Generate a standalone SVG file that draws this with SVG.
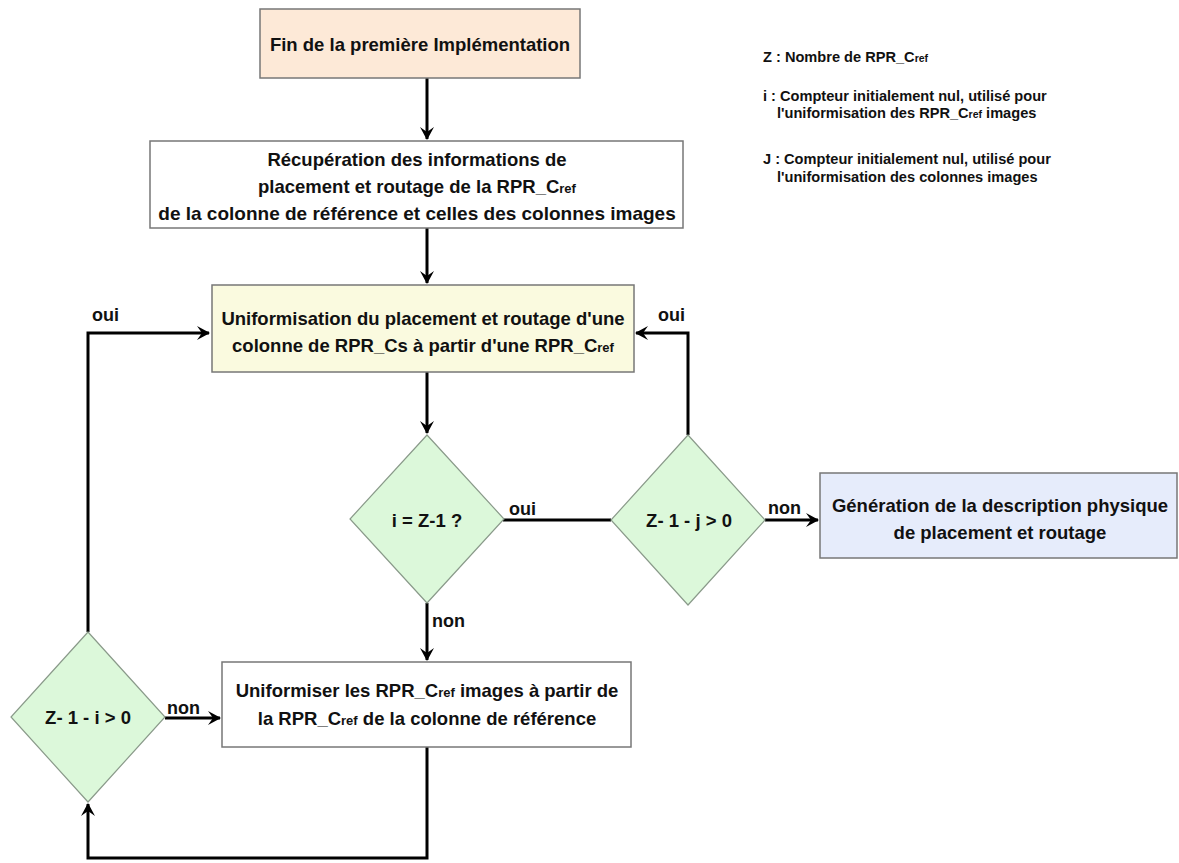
<svg xmlns="http://www.w3.org/2000/svg" width="1179" height="863" viewBox="0 0 1179 863">
<style>
.t{font-family:"Liberation Sans",Arial,sans-serif;font-weight:bold;fill:#111;}
.m{font-size:18.5px;text-anchor:middle;}
.l{font-size:18px;}
.g{font-size:14.6px;}
.s{font-size:13px;}
.gs{font-size:10.5px;}
.box{stroke:#777;stroke-width:1.5;}
.dia{fill:#dcf8da;stroke:#8a9a8a;stroke-width:1.2;}
.c{fill:none;stroke:#000;stroke-width:3;}
</style>
<defs>
<marker id="ah" markerUnits="userSpaceOnUse" markerWidth="14" markerHeight="16" refX="12" refY="8" orient="auto">
<path d="M0,1 L13,8 L0,15 L5,8 z" fill="#000"/>
</marker>
</defs>
<rect width="1179" height="863" fill="#fff"/>

<g id="connectors">
<path class="c" d="M427,78 L427,139" marker-end="url(#ah)"/>
<path class="c" d="M427,228 L427,283" marker-end="url(#ah)"/>
<path class="c" d="M427,372 L427,433" marker-end="url(#ah)"/>
<path class="c" d="M503,520 L611,520"/>
<path class="c" d="M765,520 L818,520" marker-end="url(#ah)"/>
<path class="c" d="M688,435 L688,333 L636,333" marker-end="url(#ah)"/>
<path class="c" d="M427,603 L427,660" marker-end="url(#ah)"/>
<path class="c" d="M165,718 L220,718" marker-end="url(#ah)"/>
<path class="c" d="M427,747 L427,858 L88,858 L88,804" marker-end="url(#ah)"/>
<path class="c" d="M88,632 L88,333 L209,333" marker-end="url(#ah)"/>
<text class="t l" x="509" y="515">oui</text>
<text class="t l" x="768" y="514">non</text>
<text class="t l" x="658" y="321">oui</text>
<text class="t l" x="92" y="321">oui</text>
<text class="t l" x="432" y="627">non</text>
<text class="t l" x="167" y="714">non</text>
</g>

<g id="n1">
<rect class="box" x="260" y="9" width="320" height="69" fill="#fde9d7"/>
<text class="t m" x="420" y="51">Fin de la première Implémentation</text>
</g>

<g id="n2">
<rect class="box" x="150" y="141" width="533" height="87" fill="#fff"/>
<text class="t m" x="417" y="166">Récupération des informations de</text>
<text class="t m" x="417" y="193">placement et routage de la RPR_C<tspan class="s">ref</tspan></text>
<text class="t m" x="417" y="220" style="font-size:19px">de la colonne de référence et celles des colonnes images</text>
</g>

<g id="n3">
<rect class="box" x="212" y="285" width="422" height="87" fill="#fafadf"/>
<text class="t m" x="423" y="325">Uniformisation du placement et routage d'une</text>
<text class="t m" x="423" y="352">colonne de RPR_Cs à partir d'une RPR_C<tspan class="s">ref</tspan></text>
</g>

<g id="d1">
<polygon class="dia" points="427,435 504,519 427,603 350,519"/>
<text class="t m" x="427" y="527">i = Z-1 ?</text>
</g>

<g id="d2">
<polygon class="dia" points="688,435 765,520 688,605 611,520"/>
<text class="t m" x="689" y="527">Z- 1 - j &gt; 0</text>
</g>

<g id="n5">
<rect class="box" x="820" y="473" width="357" height="85" fill="#e6ecfb"/>
<text class="t m" x="1000" y="512">Génération de la description physique</text>
<text class="t m" x="1000" y="539">de placement et routage</text>
</g>

<g id="n4">
<rect class="box" x="222" y="662" width="409" height="85" fill="#fff"/>
<text class="t m" x="427" y="697">Uniformiser les RPR_C<tspan class="s">ref</tspan> images à partir de</text>
<text class="t m" x="427" y="725">la RPR_C<tspan class="s">ref</tspan> de la colonne de référence</text>
</g>

<g id="d3">
<polygon class="dia" points="88,632 165,717 88,802 11,717"/>
<text class="t m" x="88" y="724">Z- 1 - i &gt; 0</text>
</g>

<g id="legend">
<text class="t g" x="763" y="62">Z : Nombre de RPR_C<tspan class="gs">ref</tspan></text>
<text class="t g" x="763" y="101">i : Compteur initialement nul, utilisé pour</text>
<text class="t g" x="777" y="118">l'uniformisation des  RPR_C<tspan class="gs">ref</tspan> images</text>
<text class="t g" x="763" y="164">J : Compteur initialement nul, utilisé pour</text>
<text class="t g" x="777" y="182">l'uniformisation des colonnes images</text>
</g>
</svg>
